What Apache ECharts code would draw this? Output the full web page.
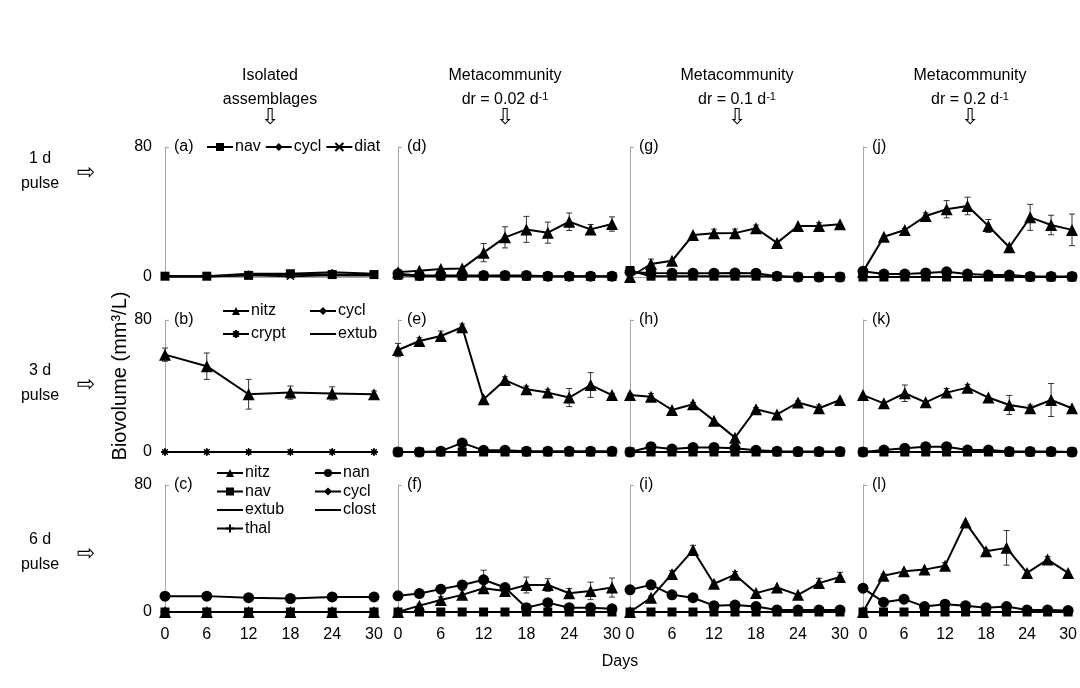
<!DOCTYPE html>
<html><head><meta charset="utf-8">
<script src="https://cdn.jsdelivr.net/npm/echarts@6/dist/echarts.min.js"></script>
<style>html,body{margin:0;padding:0;background:#fff}#c{width:1080px;height:688px}</style>
</head><body><div id="c"></div><script>
// ---------- data ----------
const days6 = [0, 6, 12, 18, 24, 30];
const days3 = [0, 3, 6, 9, 12, 15, 18, 21, 24, 27, 30];
const xTicks = [0, 6, 12, 18, 24, 30];
const yTicks = [0, 80];

// (a) isolated, 1 d pulse
const a_nav  = [0.5, 0.5, 1, 2, 1.5, 1.5];
const a_cycl = [0.5, 0.5, 2, 2, 3, 2];
const a_diat = [0.3, 0.3, 1, 0.5, 1, 1];
// (b) isolated, 3 d pulse
const b_nitz = [59, 52, 35, 36, 35.5, 35];
const b_nitz_err = [4, 8, 9, 4, 4, 2];
const b_cycl = [0, 0, 0, 0, 0, 0];
const b_crypt = [0, 0, 0, 0, 0, 0];
const b_extub = [0, 0, 0, 0, 0, 0];
// (c) isolated, 6 d pulse
const c_nitz = [0, 0, 0, 0, 0, 0];
const c_nan = [10, 10, 9, 8.5, 9.5, 9.5];
const c_nav = [0, 0, 0, 0, 0, 0];
const c_cycl = [0, 0, 0, 0, 0, 0];
const c_extub = [0, 0, 0, 0, 0, 0];
const c_clost = [0, 0, 0, 0, 0, 0];
const c_thal = [0, 0, 0, 0, 0, 0];
// (d) dr 0.02, 1 d
const d_nitz = [3, 3.9, 4.9, 5.3, 15, 24.4, 29.3, 27.3, 34, 29.3, 32.6];
const d_nitz_err = [0, 0, 0, 0, 5.6, 6.5, 8, 6.5, 5.4, 3, 4.4];
const d_nan = [2, 1, 1, 1, 1, 1, 1, 0.5, 0.5, 0.5, 0.5];
const d_nav = [1, 0.5, 0.5, 0.5, 0.5, 0.5, 0.5, 0.3, 0.3, 0.3, 0.3];
// (e) dr 0.02, 3 d
const e_nitz = [61.8, 67.3, 70.3, 75.6, 32, 43.6, 38, 36, 33, 40.6, 34.5];
const e_nitz_err = [4, 2, 3, 2, 0, 2, 2, 2, 5.5, 7.5, 1];
const e_nan = [0, 0, 0.5, 5.5, 1, 1, 0.5, 0.5, 0.5, 0.5, 0.5];
const e_nav = [0, 0, 0, 0, 0, 0, 0, 0, 0, 0, 0];
// (f) dr 0.02, 6 d
const f_nitz = [0, 4, 7.6, 10.8, 15, 13.3, 17, 17, 11.8, 13.3, 15.4];
const f_nitz_err = [0, 1, 2, 3, 3, 2, 5, 4, 3, 5.5, 6];
const f_nan = [10.2, 11.6, 14.4, 17, 20.3, 15.4, 2.7, 5.9, 2.7, 2.7, 2];
const f_nan_err = [0, 0, 1, 2, 6, 1, 0, 1, 0, 0, 0];
const f_nav = [0, 0, 0, 0, 0, 0, 0, 0, 0, 0, 0];
// (g) dr 0.1, 1 d
const g_nitz = [0, 8, 10, 25.8, 26.9, 27, 30, 21, 31.4, 31.4, 32.4];
const g_nitz_err = [0, 3, 0, 0, 2.5, 2.5, 2, 0, 0, 2, 0];
const g_nan = [3, 2.5, 2.3, 2.3, 2.3, 2.5, 2.3, 0.5, 0, 0, 0];
const g_nav = [4, 0.5, 0.5, 0.5, 0.5, 0.5, 0.5, 0.3, 0, 0, 0];
// (h) dr 0.1, 3 d
const h_nitz = [34.5, 33.5, 25.5, 28.9, 19, 8.7, 25.9, 22.8, 30, 26.5, 31.5];
const h_nitz_err = [1, 2, 0, 1, 0, 0, 1, 0, 1, 2, 0];
const h_nan = [0, 3.2, 1.8, 2.8, 2.8, 2.2, 1, 0.5, 0.3, 0.3, 0.3];
const h_nav = [0, 0, 0, 0, 0, 0, 0, 0, 0, 0, 0];
// (i) dr 0.1, 6 d
const i_nitz = [0, 9, 24, 39, 17.8, 23.5, 11.9, 15.4, 10.8, 18.2, 22];
const i_nitz_err = [0, 1, 2, 3, 1, 2, 1, 0, 0, 3, 3];
const i_nan = [14, 17.1, 10.8, 9, 4, 4.4, 3.4, 1.3, 1.3, 1.3, 1.3];
const i_nav = [0, 0, 0, 0, 0, 0, 0, 0, 0, 0, 0];
// (j) dr 0.2, 1 d
const j_nitz = [3.3, 24.8, 28.9, 37.5, 41.7, 43.7, 31.4, 18.3, 36.7, 32, 29];
const j_nitz_err = [0, 0, 1, 2, 5.3, 5.4, 4, 0, 8, 6, 9.7];
const j_nan = [3.5, 1.8, 1.8, 2.5, 3.2, 1.8, 1.2, 1.2, 0.3, 0.3, 0.3];
const j_nav = [0, 0, 0, 0, 0, 0, 0, 0, 0, 0, 0];
// (k) dr 0.2, 3 d
const k_nitz = [34.5, 29.5, 35.6, 30.1, 36, 39, 33, 28.5, 26.5, 31.5, 26.5];
const k_nitz_err = [0, 0, 5, 0, 2.5, 2, 0, 5.8, 2, 10, 0];
const k_nan = [0, 1.2, 2.2, 3.2, 3.2, 1.2, 1.2, 0.3, 0.3, 0.3, 0];
const k_nav = [0, 0, 0, 0, 0, 0, 0, 0, 0, 0, 0];
// (l) dr 0.2, 6 d
const l_nitz = [0, 22.9, 25.6, 26.7, 29.2, 56.3, 38.3, 40.4, 24.6, 33, 24.6];
const l_nitz_err = [0, 1, 0, 0, 2, 0, 1, 10.9, 0, 2, 0];
const l_nan = [15, 6.2, 8.1, 3.4, 4.9, 4, 2.7, 3.4, 1.3, 1.3, 0.9];
const l_nav = [0, 0, 0, 0, 0, 0, 0, 0, 0, 0, 0];

const colTitles = ['Isolated', 'Metacommunity', 'Metacommunity', 'Metacommunity'];
const colSub = [null, '0.02', '0.1', '0.2'];
const rowTitles = ['1 d\npulse', '3 d\npulse', '6 d\npulse'];
const panelLetters = ['a','b','c','d','e','f','g','h','i','j','k','l'];

// ---------- layout ----------
const FONT = 'Liberation Sans, Arial, sans-serif';
const colLeft = [165, 398, 630, 863], colWidth = [209, 214, 210, 209];
const rowTop = [147, 320, 485], rowHeight = [130, 132, 127];
const colCenter = [270, 505, 737, 970];

const panels = [
  {x: days6, s: [['nav', a_nav], ['cycl', a_cycl], ['diat', a_diat]], e: []},
  {x: days6, s: [['cycl', b_cycl], ['crypt', b_crypt], ['extub', b_extub], ['nitz', b_nitz]], e: [[b_nitz, b_nitz_err]]},
  {x: days6, s: [['nav', c_nav], ['cycl', c_cycl], ['extub', c_extub], ['clost', c_clost], ['thal', c_thal], ['nitz', c_nitz], ['nan', c_nan]], e: []},
  {x: days3, s: [['nav', d_nav], ['nan', d_nan], ['nitz', d_nitz]], e: [[d_nitz, d_nitz_err]]},
  {x: days3, s: [['nav', e_nav], ['nan', e_nan], ['nitz', e_nitz]], e: [[e_nitz, e_nitz_err]]},
  {x: days3, s: [['nav', f_nav], ['nan', f_nan], ['nitz', f_nitz]], e: [[f_nitz, f_nitz_err], [f_nan, f_nan_err]]},
  {x: days3, s: [['nav', g_nav], ['nan', g_nan], ['nitz', g_nitz]], e: [[g_nitz, g_nitz_err]]},
  {x: days3, s: [['nav', h_nav], ['nan', h_nan], ['nitz', h_nitz]], e: [[h_nitz, h_nitz_err]]},
  {x: days3, s: [['nav', i_nav], ['nan', i_nan], ['nitz', i_nitz]], e: [[i_nitz, i_nitz_err]]},
  {x: days3, s: [['nav', j_nav], ['nan', j_nan], ['nitz', j_nitz]], e: [[j_nitz, j_nitz_err]]},
  {x: days3, s: [['nav', k_nav], ['nan', k_nan], ['nitz', k_nitz]], e: [[k_nitz, k_nitz_err]]},
  {x: days3, s: [['nav', l_nav], ['nan', l_nan], ['nitz', l_nitz]], e: [[l_nitz, l_nitz_err]]}
];

const DASH = 'path://M0,0M0,4.4L10,4.4L10,5.6L0,5.6ZM10,10';
const SYM = {
  nitz:  {symbol: 'triangle', size: 12},
  nan:   {symbol: 'circle', size: 11},
  nav:   {symbol: 'rect', size: 9},
  cycl:  {symbol: 'diamond', size: 7},
  diat:  {symbol: 'path://M0,0L10,10M10,0L0,10', size: 7, stroke: true},
  crypt: {symbol: 'path://M0,5L10,5M5,0L5,10M1.5,1.5L8.5,8.5M8.5,1.5L1.5,8.5', size: 8, stroke: true},
  extub: {symbol: DASH, size: 8},
  clost: {symbol: DASH, size: 8},
  thal:  {symbol: 'path://M5,0L5,10M0,5L10,5', size: 9, stroke: true}
};

const grid = [], xAxis = [], yAxis = [], series = [];
for (let c = 0; c < 4; c++) {
  for (let r = 0; r < 3; r++) {
    const idx = c * 3 + r;
    grid.push({left: colLeft[c], top: rowTop[r], width: colWidth[c], height: rowHeight[r]});
    xAxis.push({
      type: 'value', gridIndex: idx, min: xTicks[0], max: xTicks[xTicks.length - 1], interval: xTicks[1] - xTicks[0],
      axisLine: {show: true, lineStyle: {color: '#a6a6a6', width: 1}},
      axisTick: {show: false}, splitLine: {show: false},
      axisLabel: {show: r === 2, fontSize: 16, color: '#000', fontFamily: FONT, margin: 15}
    });
    yAxis.push({
      type: 'value', gridIndex: idx, min: yTicks[0], max: yTicks[1], interval: yTicks[1] - yTicks[0],
      axisLine: {show: true, lineStyle: {color: '#a6a6a6', width: 1}},
      axisTick: {show: true, inside: true, length: 4, lineStyle: {color: '#a6a6a6'}},
      splitLine: {show: false},
      axisLabel: {show: c === 0, fontSize: 16, color: '#000', fontFamily: FONT, margin: 13}
    });
    const p = panels[idx];
    p.e.forEach(([vals, errs]) => {
      const data = [];
      p.x.forEach((xv, k) => { if (errs[k] > 0) data.push([xv, vals[k], errs[k]]); });
      series.push({
        type: 'custom', xAxisIndex: idx, yAxisIndex: idx, z: 1, silent: true, data: data,
        renderItem: function (params, api) {
          const xv = api.value(0), yv = api.value(1), ev = api.value(2);
          const t = api.coord([xv, yv + ev]), b = api.coord([xv, yv - ev]);
          const cw = 3;
          const st = {stroke: '#333', lineWidth: 1};
          return {type: 'group', children: [
            {type: 'line', shape: {x1: t[0], y1: t[1], x2: b[0], y2: b[1]}, style: st},
            {type: 'line', shape: {x1: t[0] - cw, y1: t[1], x2: t[0] + cw, y2: t[1]}, style: st},
            {type: 'line', shape: {x1: b[0] - cw, y1: b[1], x2: b[0] + cw, y2: b[1]}, style: st}
          ]};
        }
      });
    });
    p.s.forEach(([name, vals]) => {
      const sy = SYM[name];
      series.push({
        type: 'line', name: name, xAxisIndex: idx, yAxisIndex: idx, z: 2,
        data: p.x.map((xv, k) => [xv, vals[k]]),
        symbol: sy.symbol, symbolSize: sy.size, showSymbol: true,
        lineStyle: {color: '#000', width: 2},
        itemStyle: sy.stroke ? {color: '#000', borderColor: '#000', borderWidth: 1.3} : {color: '#000', borderWidth: 0},
        emphasis: {disabled: true}, animation: false
      });
    });
  }
}

const legendBase = {
  selectedMode: false, itemWidth: 26, itemHeight: 10, padding: 0,
  textStyle: {fontSize: 16, color: '#000', fontFamily: FONT, padding: [0, 0, 0, -3]}
};
const legend = [
  Object.assign({}, legendBase, {left: 206, top: 139, orient: 'horizontal', itemGap: 4, data: ['nav', 'cycl', 'diat']}),
  Object.assign({}, legendBase, {left: 222, top: 303, orient: 'vertical', itemGap: 7, data: ['nitz', 'crypt']}),
  Object.assign({}, legendBase, {left: 309, top: 303, orient: 'vertical', itemGap: 7, data: ['cycl', 'extub']}),
  Object.assign({}, legendBase, {left: 216, top: 465, orient: 'vertical', itemGap: 2.5, data: ['nitz', 'nav', 'extub', 'thal']}),
  Object.assign({}, legendBase, {left: 314, top: 465, orient: 'vertical', itemGap: 2.5, data: ['nan', 'cycl', 'clost']})
];

const graphic = [];
for (let c = 0; c < 4; c++) {
  graphic.push({type: 'text', x: colCenter[c], y: 76, style: {text: colTitles[c], fontSize: 16, fontFamily: FONT, fill: '#000', align: 'center', verticalAlign: 'middle'}});
  if (colSub[c] === null) {
    graphic.push({type: 'text', x: colCenter[c], y: 100, style: {text: 'assemblages', fontSize: 16, fontFamily: FONT, fill: '#000', align: 'center', verticalAlign: 'middle'}});
  } else {
    graphic.push({type: 'text', x: colCenter[c], y: 100, style: {
      text: '{n|dr = ' + colSub[c] + ' d}{s|-1}', align: 'center', verticalAlign: 'middle', fontFamily: FONT, fill: '#000',
      rich: {n: {fontSize: 16, lineHeight: 18, fontFamily: FONT, fill: '#000'}, s: {fontSize: 11, lineHeight: 18, verticalAlign: 'top', fontFamily: FONT, fill: '#000', padding: [0, 0, 6, 0]}}
    }});
  }
  graphic.push({type: 'text', x: colCenter[c], y: 118, style: {text: '\u21E9', fontSize: 22, fontFamily: 'DejaVu Sans', fill: '#000', align: 'center', verticalAlign: 'middle'}});
}
for (let r = 0; r < 3; r++) {
  const cy = rowTop[r] + [24, 63, 67][r];
  graphic.push({type: 'text', x: 40, y: cy, style: {text: rowTitles[r], fontSize: 16, lineHeight: 25, fontFamily: FONT, fill: '#000', align: 'center', verticalAlign: 'middle'}});
  graphic.push({type: 'text', x: 86, y: cy + 2, style: {text: '\u21E8', fontSize: 22, fontFamily: 'DejaVu Sans', fill: '#000', align: 'center', verticalAlign: 'middle'}});
}
for (let c = 0; c < 4; c++) {
  for (let r = 0; r < 3; r++) {
    graphic.push({type: 'text', x: colLeft[c] + 9, y: rowTop[r], style: {text: '(' + panelLetters[c * 3 + r] + ')', fontSize: 16, fontFamily: FONT, fill: '#000', align: 'left', verticalAlign: 'middle'}});
  }
}
graphic.push({type: 'text', x: 120, y: 376, rotation: Math.PI / 2, style: {text: 'Biovolume (mm\u00B3/L)', fontSize: 20, fontFamily: FONT, fill: '#000', align: 'center', verticalAlign: 'middle'}});
graphic.push({type: 'text', x: 620, y: 662, style: {text: 'Days', fontSize: 16, fontFamily: FONT, fill: '#000', align: 'center', verticalAlign: 'middle'}});

const chart = echarts.init(document.getElementById('c'), null, {renderer: 'canvas'});
chart.setOption({
  animation: false, backgroundColor: '#fff',
  grid: grid, xAxis: xAxis, yAxis: yAxis, series: series, legend: legend, graphic: graphic
});
</script></body></html>
